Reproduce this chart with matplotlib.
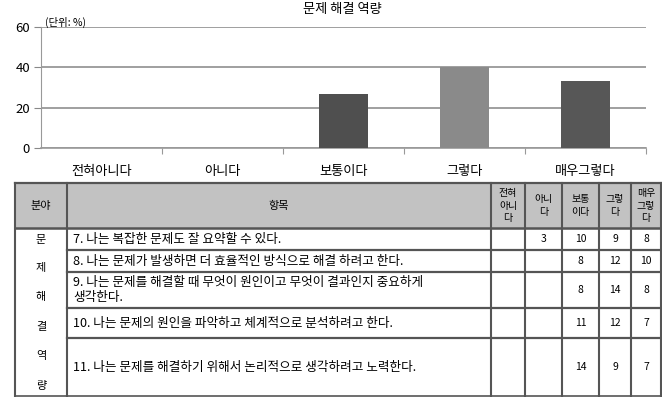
import matplotlib
matplotlib.use("Agg")
import matplotlib.pyplot as plt

plt.rcParams['font.family'] = ['Noto Sans CJK KR', 'DejaVu Sans']

# 막대 그래프 데이터 (단위: %)
categories = ['전혀아니다', '아니다', '보통이다', '그렇다', '매우그렇다']
percent = [0, 0, 26.7, 40.0, 33.3]
bar_colors = ['#4f4f4f', '#4f4f4f', '#4f4f4f', '#8a8a8a', '#575757']

# 표 데이터
header_cols = ['전혀\n아니\n다', '아니\n다', '보통\n이다', '그렇\n다', '매우\n그렇\n다']
field_name = '문제해결역량'
items = [
    '7. 나는 복잡한 문제도 잘 요약할 수 있다.',
    '8. 나는 문제가 발생하면 더 효율적인 방식으로 해결 하려고 한다.',
    '9. 나는 문제를 해결할 때 무엇이 원인이고 무엇이 결과인지 중요하게\n생각한다.',
    '10. 나는 문제의 원인을 파악하고 체계적으로 분석하려고 한다.',
    '11. 나는 문제를 해결하기 위해서 논리적으로 생각하려고 노력한다.',
]
cnt_never = [None, None, None, None, None]
cnt_no = [3, None, None, None, None]
cnt_neutral = [10, 8, 8, 11, 14]
cnt_agree = [9, 12, 14, 12, 9]
cnt_strong = [8, 10, 8, 7, 7]

W, H = 662, 397
fig = plt.figure(figsize=(W / 100, H / 100), dpi=100)

# ---- 막대 그래프 ----
ax = fig.add_axes([41 / W, 1 - 148 / H, (646 - 41) / W, (148 - 27) / H])
x = list(range(len(categories)))
ax.bar(x, percent, width=0.41, color=bar_colors, zorder=3)
ax.set_xlim(-0.5, 4.5)
ax.set_ylim(0, 60)
ax.set_yticks([0, 20, 40, 60])
ax.tick_params(axis='y', labelsize=9.5, length=5, color='#888888', pad=3)
ax.yaxis.grid(True, color='#858585', linewidth=1.1, zorder=0)
ax.set_xticks([0.5, 1.5, 2.5, 3.5, 4.5])
ax.set_xticklabels([])
ax.set_xticks(x, minor=True)
ax.set_xticklabels(categories, minor=True, fontsize=9.5)
ax.tick_params(axis='x', which='major', length=4, color='#999999')
ax.tick_params(axis='x', which='minor', length=0, pad=12)
for s in ['top', 'right']:
    ax.spines[s].set_visible(False)
ax.spines['left'].set_color('#999999')
ax.spines['bottom'].set_color('#999999')
ax.spines['bottom'].set_linewidth(1.2)

fig.text(342 / W, 1 - 10 / H, '문제 해결 역량', ha='center', va='center', fontsize=9.5)
fig.text(45 / W, 1 - 22 / H, '(단위: %)', ha='left', va='center', fontsize=7.5)

# ---- 표 ----
tb = fig.add_axes([0, 0, 1, 1])
tb.set_xlim(0, W)
tb.set_ylim(H, 0)
tb.axis('off')

xl, xf, xi = 15, 67, 491
col_x = [491, 525, 562, 599, 631, 661]
y_top, y_head = 183, 228
row_y = [228, 250, 272, 308, 338, 396]
lc = '#555555'

tb.fill_between([xl, col_x[-1]], y_top, y_head, color='#c2c2c2', zorder=0)
tb.plot([xl, col_x[-1]], [y_top, y_top], color=lc, lw=1.6)
tb.plot([xl, col_x[-1]], [y_head, y_head], color=lc, lw=1.8)
for yy in row_y[1:-1]:
    tb.plot([xf, col_x[-1]], [yy, yy], color=lc, lw=1.6)
tb.plot([xl, col_x[-1]], [row_y[-1], row_y[-1]], color=lc, lw=1.2)
for xx in [xl, xf] + col_x:
    tb.plot([xx, xx], [y_top, row_y[-1]], color=lc, lw=1.5)

tb.text((xl + xf) / 2, (y_top + y_head) / 2, '분야', ha='center', va='center', fontsize=8)
tb.text((xf + xi) / 2, (y_top + y_head) / 2, '항목', ha='center', va='center', fontsize=8)
for i, h in enumerate(header_cols):
    tb.text((col_x[i] + col_x[i + 1]) / 2, (y_top + y_head) / 2, h,
            ha='center', va='center', fontsize=7.2, linespacing=1.3)

field_y = [240, 268, 297, 327, 356, 386]
for ch, yy in zip(field_name, field_y):
    tb.text((xl + xf) / 2, yy, ch, ha='center', va='center', fontsize=8)

cols = [cnt_never, cnt_no, cnt_neutral, cnt_agree, cnt_strong]
for r, item in enumerate(items):
    yc = (row_y[r] + row_y[r + 1]) / 2
    tb.text(73, yc, item, ha='left', va='center', fontsize=9.1, linespacing=1.2)
    for c, vals in enumerate(cols):
        if vals[r] is not None:
            tb.text((col_x[c] + col_x[c + 1]) / 2, yc, str(vals[r]),
                    ha='center', va='center', fontsize=7.5)

fig.savefig('out.png', dpi=100)
